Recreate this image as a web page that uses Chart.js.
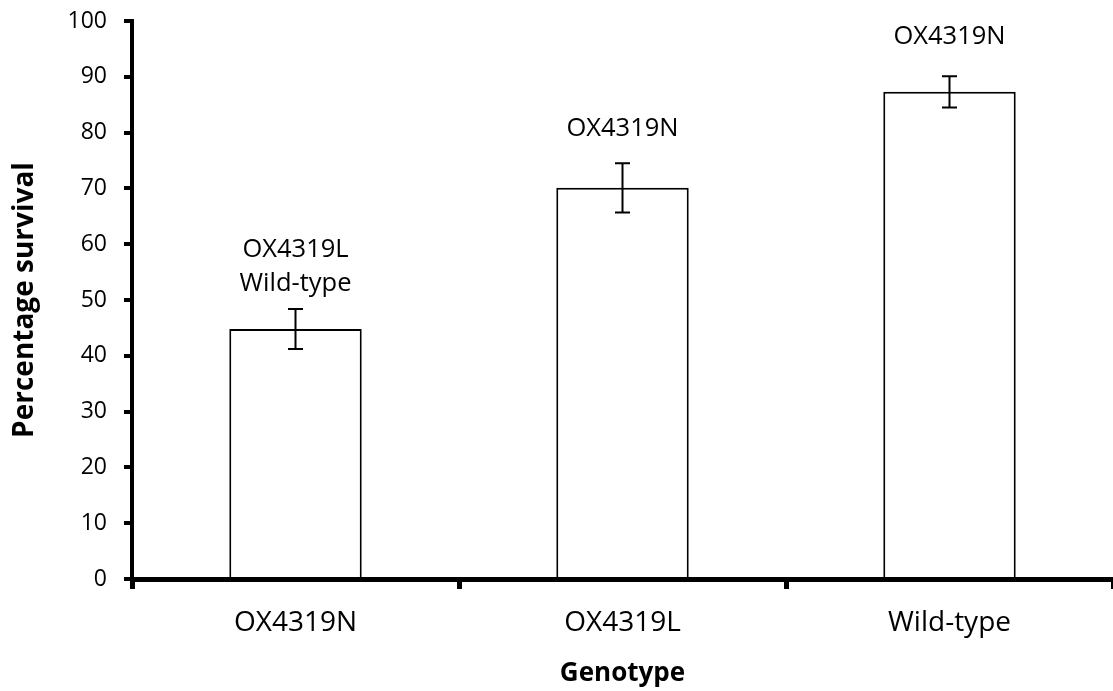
<!DOCTYPE html>
<html>
<head>
<meta charset="utf-8">
<script src="https://cdn.jsdelivr.net/npm/chart.js@4/dist/chart.umd.min.js"></script>
<style>
  html, body { margin: 0; padding: 0; background: #fff; }
  #wrap { width: 1113px; height: 691px; position: relative; }
</style>
</head>
<body>
<div id="wrap"><canvas id="chart"></canvas></div>
<script>
// Survival by genotype, mean ± error
const genotypes = ["OX4319N", "OX4319L", "Wild-type"];
const survival = [44.8, 70.1, 87.3];
const survivalErr = [3.6, 4.4, 2.8];
// Genotypes each bar differs significantly from
const diffFrom = [["OX4319L", "Wild-type"], ["OX4319N"], ["OX4319N"]];
const yTicks = [0, 10, 20, 30, 40, 50, 60, 70, 80, 90, 100];

const FONT = "'Open Sans', 'DejaVu Sans', sans-serif";

// Baseline (in axis units) of the last annotation line above each bar
const noteBaseline = [51.6, 79.4, 95.8];

const errorBars = {
  id: 'errorBars',
  afterDatasetsDraw(chart) {
    const ctx = chart.ctx;
    const y = chart.scales.y;
    const meta = chart.getDatasetMeta(0);
    ctx.save();
    ctx.strokeStyle = '#000';
    ctx.lineWidth = 2;
    meta.data.forEach((bar, i) => {
      const top = y.getPixelForValue(survival[i] + survivalErr[i]);
      const bot = y.getPixelForValue(survival[i] - survivalErr[i]);
      const half = 7.5;
      ctx.beginPath();
      ctx.moveTo(bar.x, top); ctx.lineTo(bar.x, bot);
      ctx.moveTo(bar.x - half, top); ctx.lineTo(bar.x + half, top);
      ctx.moveTo(bar.x - half, bot); ctx.lineTo(bar.x + half, bot);
      ctx.stroke();
    });
    // annotation text above each bar
    ctx.fillStyle = '#000';
    ctx.font = "25.5px " + FONT;
    ctx.textAlign = 'center';
    ctx.textBaseline = 'alphabetic';
    const lineGap = 34.5;
    meta.data.forEach((bar, i) => {
      const base = y.getPixelForValue(noteBaseline[i]);
      const lines = diffFrom[i];
      lines.forEach((t, k) => {
        ctx.fillText(t, bar.x, base - (lines.length - 1 - k) * lineGap);
      });
    });
    ctx.restore();
  }
};

new Chart(document.getElementById('chart'), {
  type: 'bar',
  data: {
    labels: genotypes,
    datasets: [{
      data: survival,
      backgroundColor: '#ffffff',
      borderColor: '#000000',
      borderWidth: 2,
      barPercentage: 0.405,
      categoryPercentage: 1.0
    }]
  },
  options: {
    responsive: true,
    maintainAspectRatio: false,
    animation: false,
    layout: { padding: { top: 21, right: 0, bottom: 0, left: 0 } },
    plugins: { legend: { display: false }, tooltip: { enabled: false } },
    scales: {
      x: {
        offset: true,
        afterFit(scale) { scale.height = 112; scale.paddingLeft = 0; scale.paddingRight = 0; },
        border: { display: true, color: '#000', width: 5 },
        grid: { display: true, offset: true, drawOnChartArea: false, drawTicks: true, tickLength: 10, lineWidth: 5, color: '#000' },
        ticks: { color: '#000', padding: 17, font: { family: FONT, size: 28 } },
        title: { display: true, text: 'Genotype', color: '#000', padding: { top: 0, bottom: 2 }, font: { family: FONT, size: 26, weight: 'bold' } }
      },
      y: {
        min: 0,
        max: 100,
        afterFit(scale) { scale.width = 132; scale.paddingTop = 0; scale.paddingBottom = 0; },
        afterBuildTicks(scale) { scale.ticks = yTicks.map(v => ({ value: v })); },
        border: { display: true, color: '#000', width: 4 },
        grid: { display: true, drawOnChartArea: false, drawTicks: true, tickLength: 8, lineWidth: 4, color: '#000' },
        ticks: { color: '#000', padding: 17, font: { family: FONT, size: 23 } },
        title: { display: true, text: 'Percentage survival', color: '#000', padding: { top: 8, bottom: 0 }, font: { family: FONT, size: 28, weight: 'bold' } }
      }
    }
  },
  plugins: [errorBars]
});
</script>
</body>
</html>
